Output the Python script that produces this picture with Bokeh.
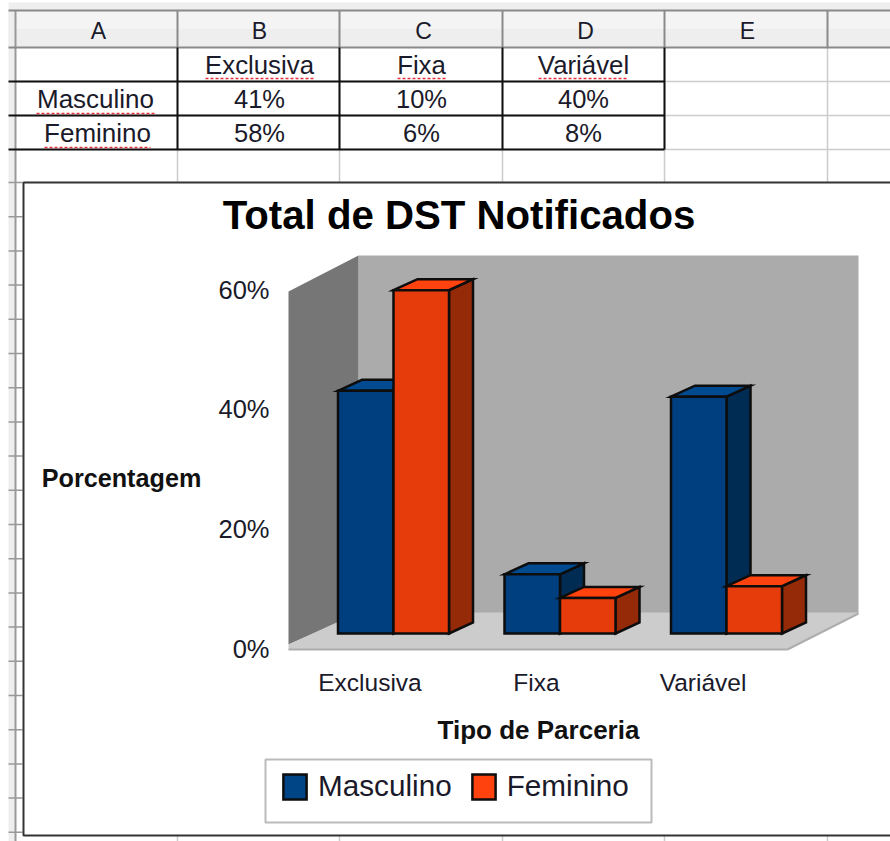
from bokeh.plotting import figure
from bokeh.models import Range1d, LinearAxis, FixedTicker, Legend, LegendItem
from bokeh.embed import file_html
from bokeh.resources import INLINE
from bokeh.core.properties import value

categories = ["Exclusiva", "Fixa", "Variável"]
masculino = [41, 10, 40]
feminino = [58, 6, 8]
tick_values = [0, 20, 40, 60]
columns = ["A", "B", "C", "D", "E"]

W, H = 890, 841
FONT = value("Liberation Sans")
NAN = float("nan")

# pixel placement of the chart's scales
X0, XS = 369.5, 166.5          # centre of first category on the front plane, px per category
Y0, YS = 648.0, 359.0 / 60     # 0 % on the axis, px per percent
BX0, BY0, BYS = 393.0, 633.0, 5.92   # bar plane
DX, DY = 24 / XS, 11 / BYS     # bar depth in data units
BAR = 1 / 3

p = figure(width=W, height=H, output_backend="svg", toolbar_location=None,
           x_range=Range1d(-X0 / XS, (W - X0) / XS),
           y_range=Range1d((Y0 - H) / YS, Y0 / YS),
           min_border=0, outline_line_color=None, background_fill_color="white",
           border_fill_color="white", x_axis_location=None, y_axis_location=None)
p.grid.visible = False
p.extra_x_ranges = {"px": Range1d(0, W), "bar": Range1d(-BX0 / XS, (W - BX0) / XS)}
p.extra_y_ranges = {"px": Range1d(H, 0), "bar": Range1d((BY0 - H) / BYS, BY0 / BYS)}
PX = dict(x_range_name="px", y_range_name="px")
BR = dict(x_range_name="bar", y_range_name="bar")

# ---------- spreadsheet ----------
p.quad(left=[8], right=[W], top=[2], bottom=[10], fill_color="#eeeeee", line_color=None, **PX)
p.quad(left=[8], right=[W], top=[10], bottom=[28], fill_color="#f4f4f4", line_color=None, **PX)
p.quad(left=[8], right=[W], top=[28], bottom=[47], fill_color="#eeeeee", line_color=None, **PX)
p.quad(left=[8], right=[15], top=[10], bottom=[H], fill_color="#eeeeee", line_color=None, **PX)

col_x = [177, 339, 502, 664, 827]
row_y = [47, 81, 115, 149]
row_ticks = [182 + 34.2 * k for k in range(20)]
# light grid
p.segment(x0=col_x, x1=col_x, y0=[47] * 5, y1=[H] * 5, line_color="#cccccc", line_width=1.5, **PX)
p.segment(x0=[15] * 3, x1=[W] * 3, y0=row_y[1:], y1=row_y[1:], line_color="#cccccc", line_width=1.5, **PX)
p.segment(x0=[8] * len(row_ticks), x1=[22] * len(row_ticks), y0=row_ticks, y1=row_ticks,
          line_color="#999999", line_width=1.5, **PX)
p.segment(x0=[15], x1=[15], y0=[10], y1=[H], line_color="#999999", line_width=2, **PX)
# header lines
p.segment(x0=[8, 8], x1=[W, W], y0=[10, 47], y1=[10, 47], line_color="#8a8a8a", line_width=2, **PX)
p.segment(x0=col_x, x1=col_x, y0=[10] * 5, y1=[47] * 5, line_color="#8a8a8a", line_width=2, **PX)
# black table borders
p.segment(x0=[8] * 3, x1=[664] * 3, y0=row_y[1:], y1=row_y[1:], line_color="#111111", line_width=2, **PX)
p.segment(x0=col_x[:4], x1=col_x[:4], y0=[47] * 4, y1=[149] * 4, line_color="#111111", line_width=2, **PX)

cell_x = [259, 421, 583]
txt = dict(text_font=FONT, text_align="center", text_baseline="middle", text_color="#1a1a2a")
p.text(x=[98, 259, 423, 585, 747], y=[30] * 5, text=columns, text_font_size="23px", **txt, **PX)
p.text(x=cell_x, y=[64] * 3, text=categories, text_font_size="25.8px", **txt, **PX)
p.text(x=[95, 97], y=[98, 132], text=["Masculino", "Feminino"], text_font_size="26px", **txt, **PX)
p.text(x=cell_x, y=[98] * 3, text=[f"{v}%" for v in masculino], text_font_size="25.5px", **txt, **PX)
p.text(x=cell_x, y=[132] * 3, text=[f"{v}%" for v in feminino], text_font_size="25.5px", **txt, **PX)
# spell-check underlines
p.segment(x0=[205, 397, 538, 36, 44], x1=[313, 445, 627, 154, 150],
          y0=[78, 78, 78, 113, 147], y1=[78, 78, 78, 113, 147],
          line_color="#e8303a", line_width=1.5, line_dash="3 2", **PX)

# ---------- chart frame ----------
p.quad(left=[23], right=[W + 5], top=[182], bottom=[835], fill_color="white",
       line_color="#333333", line_width=2, **PX)

# walls and floor
p.patch(x=[358, 858, 858, 358], y=[255, 255, 613, 613], fill_color="#ababab", line_color=None, **PX)
p.patch(x=[288, 358, 358, 288], y=[291, 255, 613, 644], fill_color="#767676", line_color=None, **PX)
p.patch(x=[288, 358, 858, 787, 288], y=[644, 612, 612, 649, 649],
        fill_color="#cccccc", line_color=None, **PX)
p.segment(x0=[288, 787], x1=[787, 858], y0=[649, 649], y1=[649, 613], line_color="#adadad", line_width=2, **PX)

# 3D bars
edge = dict(line_color="#0d0d0d", line_width=2.5, line_join="miter")
series = [(masculino, -BAR / 2, "#003f7f", "#004a90", "#002b52"),
          (feminino, BAR / 2, "#e63c0b", "#ff420e", "#952a08")]
for i in range(len(categories)):
    for vals, off, front, top, side in series:
        v = vals[i]
        l, r = i + off - BAR / 2, i + off + BAR / 2
        p.patch(x=[r, r + DX, r + DX, r], y=[0, DY, v + DY, v], fill_color=side, **edge, **BR)
        p.patch(x=[l, l + DX, r + DX, r], y=[v, v + DY, v + DY, v], fill_color=top, **edge, **BR)
        p.vbar(x=[i + off], top=[v], bottom=[0], width=BAR, fill_color=front, **edge, **BR)

# axes (placed inside the frame, on the chart's front plane)
y_axis = LinearAxis(ticker=FixedTicker(ticks=tick_values),
                    major_label_overrides={v: f"{v}%" for v in tick_values},
                    fixed_location=(288 - X0) / XS,
                    axis_line_color=None, major_tick_line_color=None, minor_tick_line_color=None,
                    major_label_text_font="Liberation Sans", major_label_text_font_size="25.5px",
                    major_label_text_color="#1a1a2a", major_label_standoff=13)
p.add_layout(y_axis, "left")
x_axis = LinearAxis(ticker=FixedTicker(ticks=list(range(len(categories)))),
                    major_label_overrides={i: c for i, c in enumerate(categories)},
                    fixed_location=0,
                    axis_line_color=None, major_tick_line_color=None, minor_tick_line_color=None,
                    major_label_text_font="Liberation Sans", major_label_text_font_size="24.5px",
                    major_label_text_color="#1a1a2a", major_label_standoff=14)
p.add_layout(x_axis, "below")

# titles
p.text(x=[458.5], y=[215], text=["Total de DST Notificados"], text_font=FONT, text_font_size="40.2px",
       text_font_style="bold", text_align="center", text_baseline="middle", text_color="black", **PX)
p.text(x=[121], y=[477], text=["Porcentagem"], text_font=FONT, text_font_size="25.2px",
       text_font_style="bold", text_align="center", text_baseline="middle", text_color="#111111", **PX)
p.text(x=[538], y=[729], text=["Tipo de Parceria"], text_font=FONT, text_font_size="26px",
       text_font_style="bold", text_align="center", text_baseline="middle", text_color="#111111", **PX)

# legend: box drawn apart so that its contents can sit as high in it as they do in the original
p.quad(left=[265], right=[651], top=[759], bottom=[822], fill_color="white",
       line_color="#bbbbbb", line_width=2, **PX)
swatch = dict(line_color="#0d0d0d", line_width=2.5, line_join="miter")
m_key = p.vbar(x=[NAN], top=[NAN], width=BAR, fill_color="#004586", **swatch, **BR)
f_key = p.vbar(x=[NAN], top=[NAN], width=BAR, fill_color="#ff420e", **swatch, **BR)
legend = Legend(items=[LegendItem(label="Masculino", renderers=[m_key]),
                       LegendItem(label="Feminino", renderers=[f_key])],
                orientation="horizontal", location=(280, H - 803), margin=0,
                spacing=17, glyph_width=29, glyph_height=31, label_standoff=9,
                label_text_font="Liberation Sans", label_text_font_size="29.7px",
                label_text_color="#1a1a2a", border_line_color=None,
                background_fill_alpha=0)
p.add_layout(legend, "center")

open("out.html", "w").write(file_html(p, INLINE))
